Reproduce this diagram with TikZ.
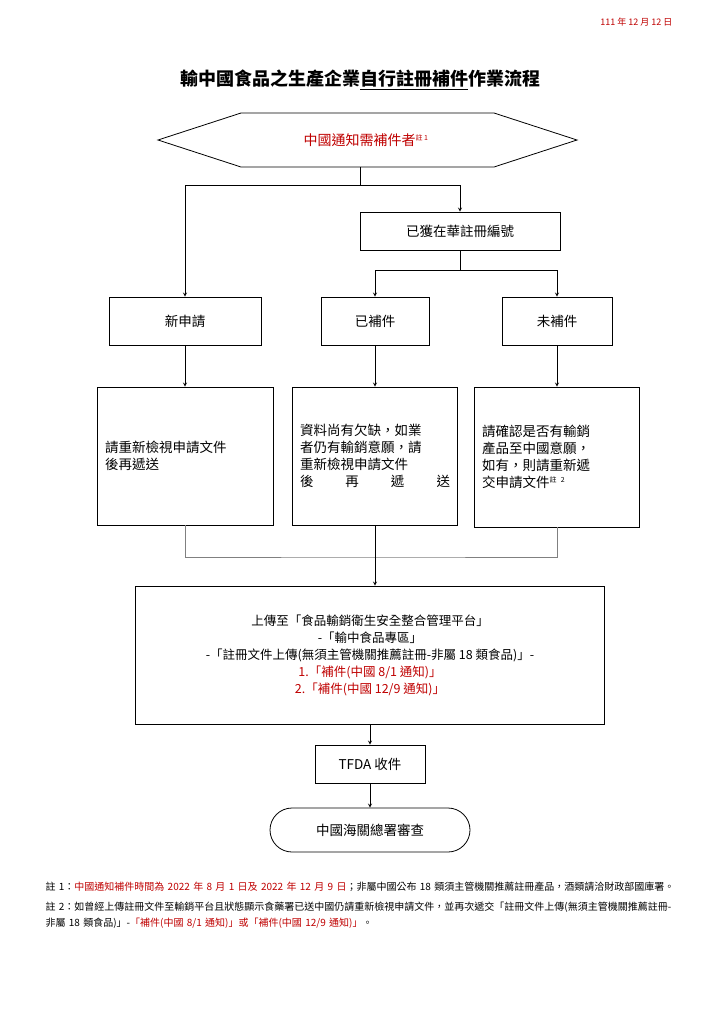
\documentclass[tikz,border=0pt]{standalone}
\usepackage{fontspec}
\setmainfont{Liberation Serif}
\newfontfamily\cjk{Noto Sans CJK TC}
\usetikzlibrary{positioning,calc}
\colorlet{notered}{red!75!black}

\begin{document}
\begin{tikzpicture}[x=1pt,y=-1pt,
  box/.style={draw, thick, minimum width=#1, font=\cjk\fontsize{13.5}{17}\selectfont, inner sep=4pt},
  flow/.style={thick, ->, >=stealth},
  line/.style={thick}]

\useasboundingbox (0,0) rectangle (720,1018);

% HEADER
\node [anchor=east, font=\fontsize{9}{11}\selectfont\cjk, text=notered] (date) at (676,22) {111 年 12 月 12 日};
\node [font=\cjk\bfseries\fontsize{18}{22}\selectfont] (title) at (360,80) {輸中國食品之生產企業\underline{自行註冊補件}作業流程};

% START
\draw [thick] (158,140) -- (241,113) -- (494,113) -- (577,140) -- (494,167) -- (241,167) -- cycle;
\node [font=\cjk\fontsize{14}{16}\selectfont, text=notered] (start) at (366,140) {中國通知需補件者\textsuperscript{\scriptsize 註 1}};
\coordinate (start-s) at (360,167);

% BRANCHES
\node [box=200pt, minimum height=38pt] (china) at (460,231) {已獲在華註冊編號};
\node [box=152pt, minimum height=48pt] (new) at (185,321) {新申請};
\node [box=108pt, minimum height=48pt] (done) at (375,321) {已補件};
\node [box=110pt, minimum height=48pt] (notyet) at (557,321) {未補件};

\node [box=176pt, minimum height=138pt, text width=160pt, align=left] (new-text) at (185,456)
{請重新檢視申請文件\\後再遞送};
\node [box=165pt, minimum height=138pt, text width=150pt, align=left] (done-text) at (375,456)
{資料尚有欠缺，如業\\者仍有輸銷意願，請\\重新檢視申請文件\\後\hfill 再\hfill 遞\hfill 送};
\node [box=165pt, minimum height=140pt, text width=150pt, align=left] (notyet-text) at (557,457)
{請確認是否有輸銷\\產品至中國意願，\\如有，則請重新遞\\交申請文件\textsuperscript{\scriptsize 註 2}};

% UPLOAD
\node [box=469pt, minimum height=138pt, align=center, font=\cjk\fontsize{12.5}{17}\selectfont] (upload) at (370,655)
{上傳至「食品輸銷衛生安全整合管理平台」\\
-「輸中食品專區」\\
-「註冊文件上傳(無須主管機關推薦註冊-非屬 18 類食品)」-\\
\textcolor{notered}{1.「補件(中國 8/1 通知)」}\\
\textcolor{notered}{2.「補件(中國 12/9 通知)」}};
\node [box=110pt, minimum height=38pt] (tfda) at (370,764) {TFDA 收件};
\node [box=200pt, minimum height=44pt, rounded corners=22pt] (review) at (370,830) {中國海關總署審查};

% CONNECTORS
\draw [line] (start-s) -- (360,185);
\draw [flow] (360,185) -| (new.north);
\draw [flow] (360,185) -| (china.north);
\draw [line] (china.south) -- (460,270);
\draw [flow] (460,270) -| (done.north);
\draw [flow] (460,270) -| (notyet.north);
\draw [flow] (new.south) -- (new-text.north);
\draw [flow] (done.south) -- (done-text.north);
\draw [flow] (notyet.south) -- (notyet-text.north);
\draw [line, gray] (new-text.south) |- (375,557) -| (notyet-text.south);
\draw [flow] (done-text.south) -- (upload.north -| done-text.south);
\draw [flow] (upload.south) -- (tfda.north);
\draw [flow] (tfda.south) -- (review.north);

% NOTES
\node [anchor=north west, text width=630pt, align=left, font=\cjk\fontsize{10}{16}\selectfont] (notes) at (42,878)
{註 1：\textcolor{notered}{中國通知補件時間為 2022 年 8 月 1 日及 2022 年 12 月 9 日}；非屬中國公布 18 類須主管機關推薦註冊產品，酒類請洽財政部國庫署。\\[4pt]
註 2：如曾經上傳註冊文件至輸銷平台且狀態顯示食藥署已送中國仍請重新檢視申請文件，並再次遞交「註冊文件上傳(無須主管機關推薦註冊-非屬 18 類食品)」-\textcolor{notered}{「補件(中國 8/1 通知)」或「補件(中國 12/9 通知)」}。};

\end{tikzpicture}
\end{document}
